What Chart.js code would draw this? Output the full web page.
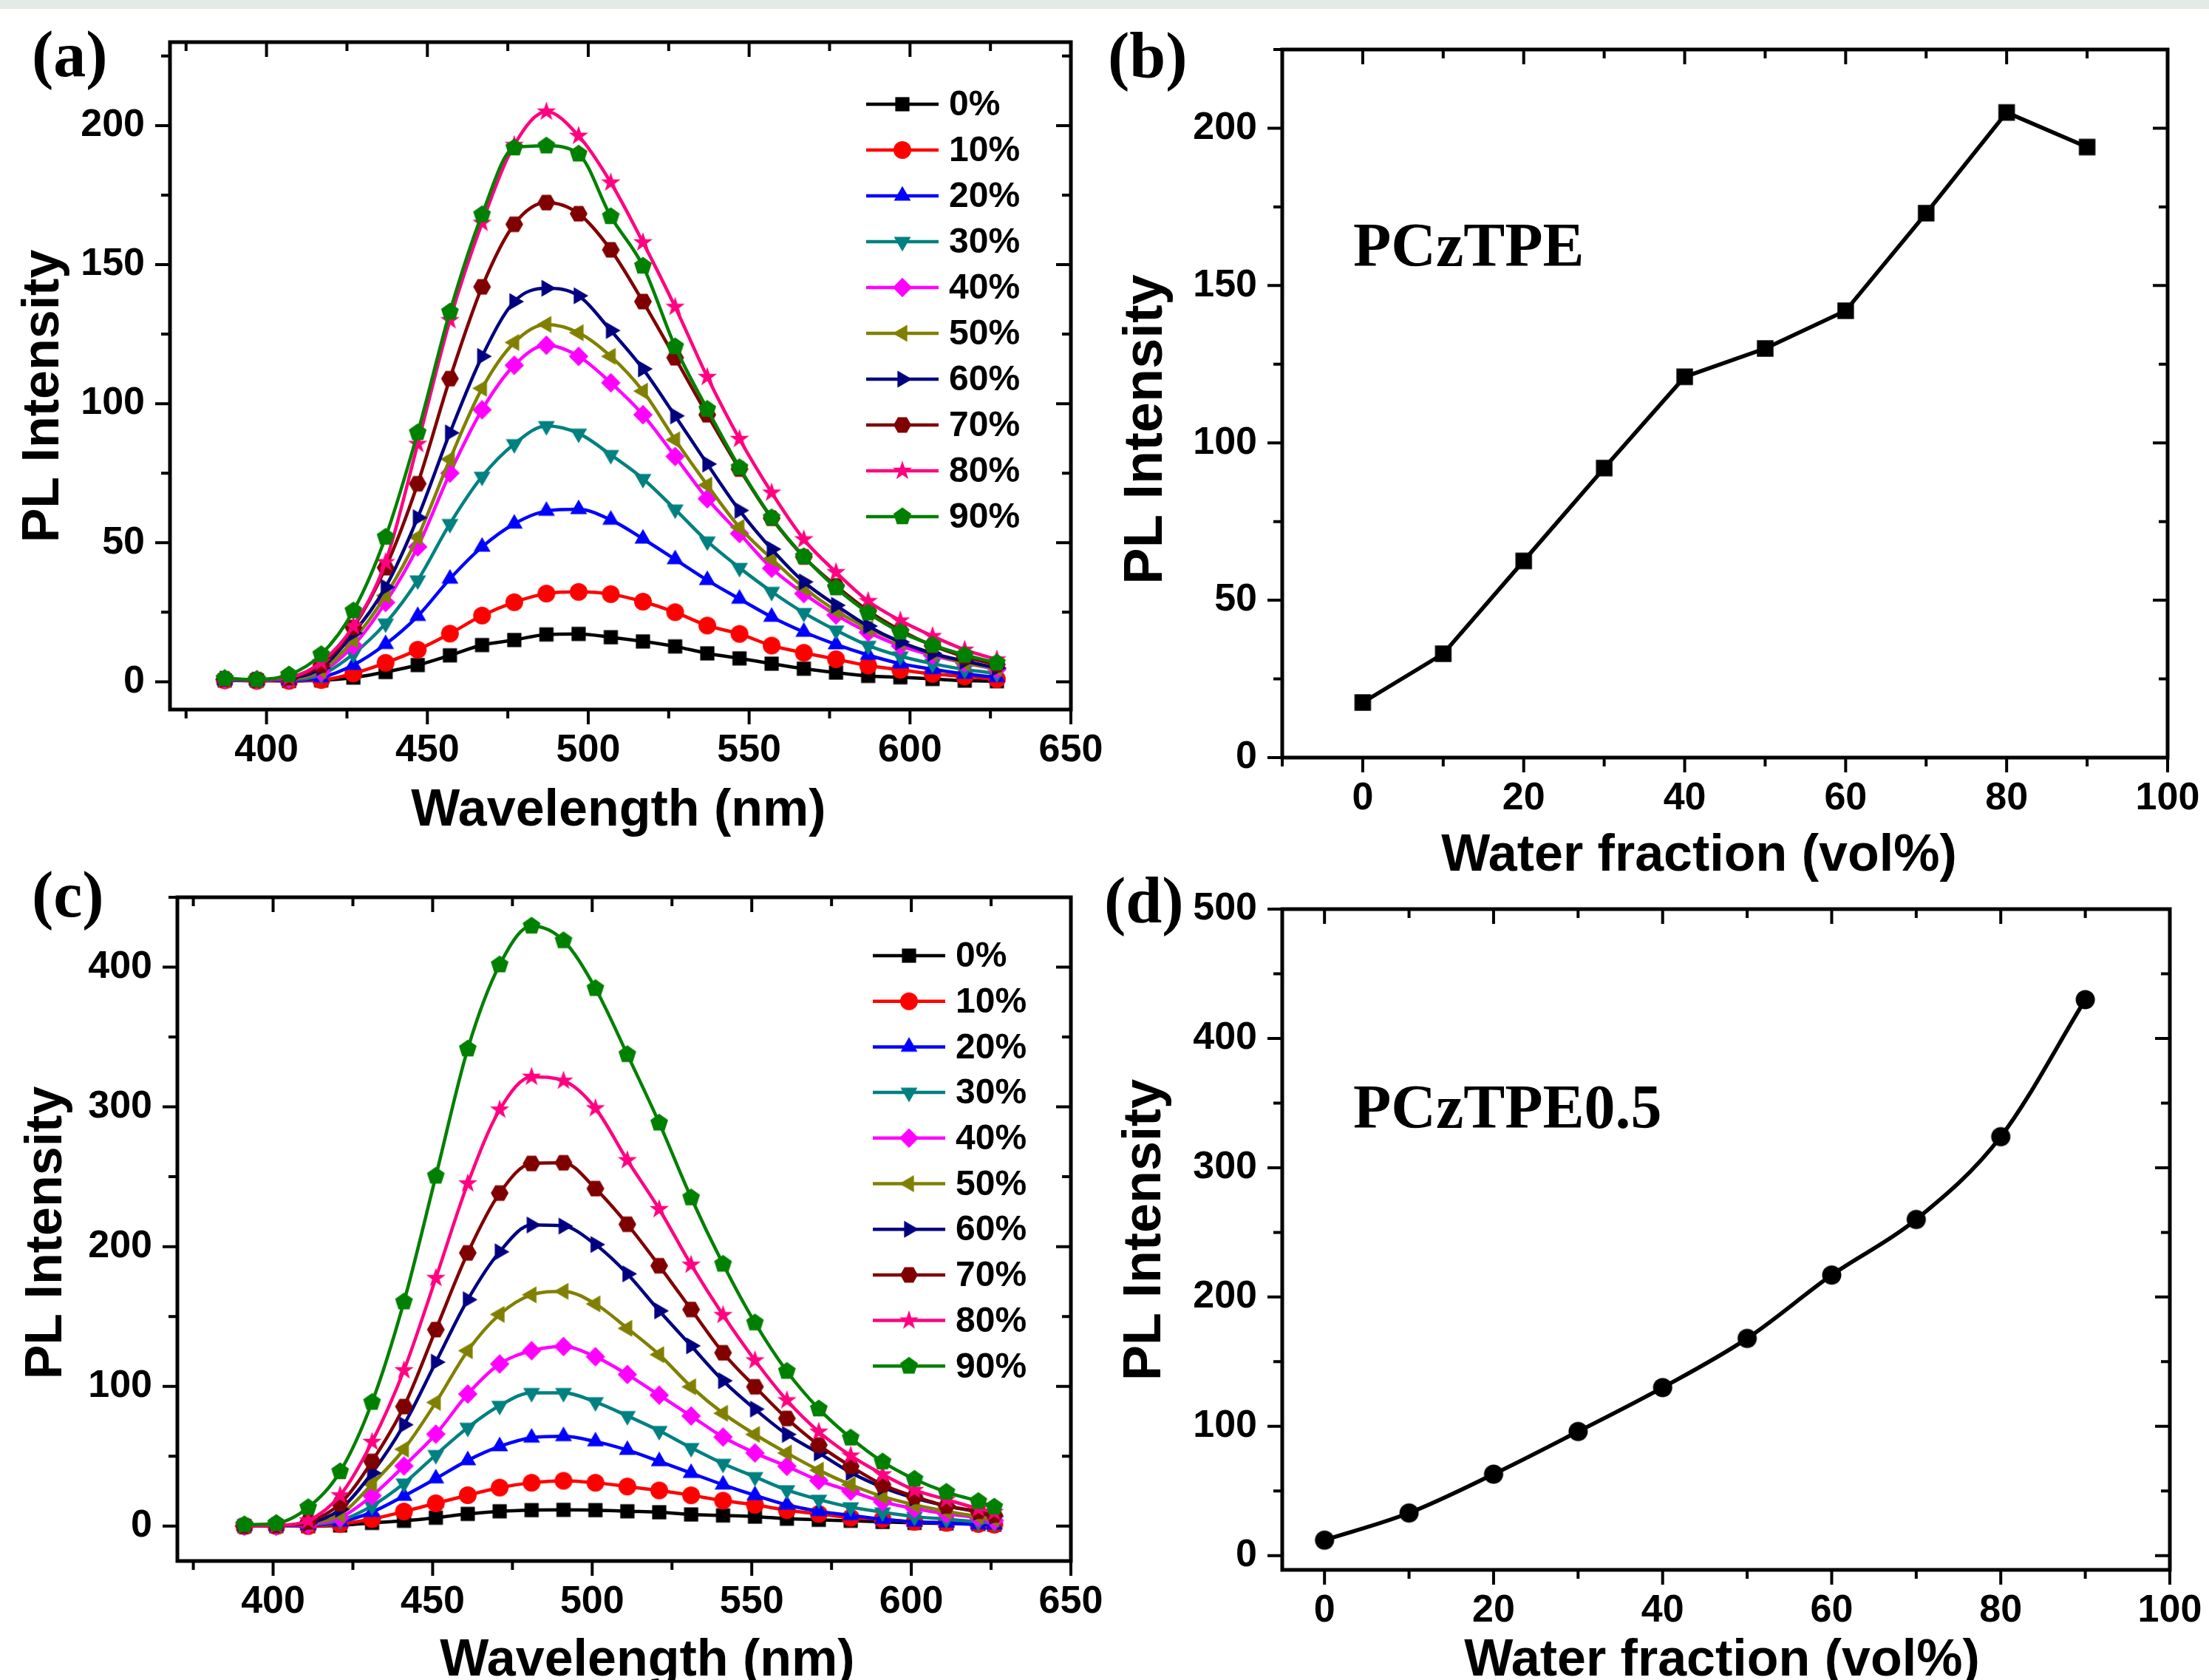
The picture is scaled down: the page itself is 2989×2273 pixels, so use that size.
<!DOCTYPE html>
<html>
<head>
<meta charset="utf-8">
<title>PL intensity of PCzTPE and PCzTPE0.5 in THF/water mixtures</title>
<script src="https://cdn.jsdelivr.net/npm/chart.js@4.4.1/dist/chart.umd.min.js"></script>
<style>
  html, body { margin: 0; padding: 0; background: #fff; }
  #page { position: relative; width: 2989px; height: 2273px; overflow: hidden; background: #fff; }
  #strip { position: absolute; left: 0; top: 0; width: 2989px; height: 12px; background: #e4eae5; }
  canvas { position: absolute; left: 0; top: 0; }
</style>
</head>
<body>
<div id="page">
  <div id="strip"></div>
  <canvas id="chartA" width="2989" height="2273"></canvas>
  <canvas id="chartB" width="2989" height="2273"></canvas>
  <canvas id="chartC" width="2989" height="2273"></canvas>
  <canvas id="chartD" width="2989" height="2273"></canvas>
</div>
<script>
// water fractions (vol%) and their series styles
const fractions = ["0%", "10%", "20%", "30%", "40%", "50%", "60%", "70%", "80%", "90%"];
const colors = ["#000000", "#ff0000", "#0000ff", "#008080", "#ff00ff", "#808000", "#000080", "#800000", "#ff0080", "#008000"];
const shapes = ["square", "circle", "triangleUp", "triangleDown", "diamond", "triangleLeft", "triangleRight", "hexagon", "star", "pentagon"];

// (a) PCzTPE emission spectra
const wavelengthA = [387, 397, 407, 417, 427, 437, 447, 457, 467, 477, 487, 497, 507, 517, 527, 537, 547, 557, 567, 577, 587, 597, 607, 617, 627];
const plA0  = [0.5, 0.5, 0.3, 0.5, 1.5, 3.5, 6, 9.5, 13.2, 15, 17, 17.2, 16, 14.5, 12.7, 10.2, 8.4, 6.5, 4.7, 3.3, 2.1, 1.6, 1, 0.4, 0.2];
const plA10 = [0.5, 0.3, 0.3, 0.6, 3, 6.8, 11.5, 17.3, 23.8, 28.6, 31.7, 32.3, 31.5, 28.8, 25, 20.2, 17.2, 13, 10.4, 8.1, 5.8, 4.3, 2.8, 1.9, 0.9];
const plA20 = [0.5, 0.4, 0.5, 1.5, 6, 13.5, 23.6, 37, 48.5, 56.8, 61.4, 62, 58.2, 51.4, 44, 36.5, 29.8, 23.3, 17.9, 13.4, 9.6, 6.5, 4.5, 2.8, 1.6];
const plA30 = [0.6, 0.5, 0.7, 2.5, 10, 21, 36.5, 56.8, 73.8, 85.5, 92, 89.3, 81.6, 73, 62, 50.5, 41, 32.4, 24.8, 18.5, 13, 9.2, 6.5, 4.4, 3];
const plA40 = [0.8, 0.6, 1, 3.5, 13, 28.5, 48.5, 75, 97.8, 113.8, 121, 117, 107.5, 96, 81, 65.8, 53.3, 40.8, 31.7, 24, 17.8, 12.9, 9.5, 6.7, 4.5];
const plA50 = [0.8, 0.6, 1, 4, 15, 31, 52, 80, 105.5, 122, 128.5, 125.5, 117, 104.5, 87, 70.7, 55.5, 44.2, 33.8, 25.5, 19.2, 14.3, 10.2, 6.8, 4.8];
const plA60 = [1, 0.6, 1.2, 5, 17.5, 34, 59, 89.5, 117, 136.7, 141.5, 138.8, 126.3, 112.5, 95.6, 78.3, 61.6, 47.7, 35.9, 27.5, 20, 14.3, 10.2, 7.4, 5];
const plA70 = [1, 0.7, 1.5, 6, 19.5, 41, 71.2, 109, 142, 164.5, 172.3, 168.3, 155.3, 136.7, 116.5, 96, 76.5, 58.8, 44.9, 34.5, 25.5, 18.5, 13, 9, 6.2];
const plA80 = [1, 0.7, 1.5, 7, 20, 43, 85.5, 130, 165, 193, 205, 196.3, 179.5, 158, 134.8, 109.6, 87.3, 68, 51.2, 39.4, 29, 22, 16.4, 11.5, 8];
const plA90 = [1.2, 0.8, 2.5, 9.8, 25.5, 52, 89.6, 133, 168, 192, 192.7, 189.8, 167.3, 149.5, 120.5, 98, 77, 59, 45, 33.8, 24.8, 17.9, 13.2, 9.6, 6.8];

// (c) PCzTPE0.5 emission spectra
const wavelengthC = [391, 401, 411, 421, 431, 441, 451, 461, 471, 481, 491, 501, 511, 521, 531, 541, 551, 561, 571, 581, 591, 601, 611, 621, 626];
const plC0  = [0, 0, 0, 0.5, 2.3, 3.8, 6, 8.7, 10.6, 11.4, 11.6, 11.4, 10.6, 9.9, 8.3, 7.6, 6.8, 5.3, 4.5, 3.8, 3, 2.3, 1.9, 1.5, 1];
const plC10 = [0, 0, 0, 1.5, 5, 10.4, 16.3, 22.1, 27.5, 31, 32.4, 31, 28.3, 25.5, 22, 18.2, 15.2, 11.4, 8.7, 6, 4.9, 3, 2.3, 1.5, 1];
const plC20 = [0, 0, 0.5, 3, 10, 21.5, 34, 47, 57, 63.2, 64.2, 60.5, 54.4, 46.3, 37.9, 29.6, 22, 15.2, 10.6, 7.6, 4.9, 3, 2.3, 1.1, 1];
const plC30 = [0, 0, 1, 4, 14.5, 30.6, 51, 70.5, 86.2, 95.4, 95.4, 88.8, 78.9, 68.2, 56, 44.7, 35.2, 25.8, 19, 13.6, 9.9, 6.8, 4.9, 3, 2];
const plC40 = [0, 0, 1, 6, 21.7, 43, 65.8, 94.5, 116, 125.5, 128.5, 121.2, 108.5, 93.7, 78.8, 63.7, 52.3, 42.8, 32.6, 25, 17.4, 12.5, 8.7, 6, 4];
const plC50 = [0, 0, 2, 8, 30, 55, 88.5, 125.5, 151.5, 165.5, 168, 159, 141.5, 122.7, 99.7, 80.7, 65.6, 52.3, 40, 29.6, 21.2, 15.2, 10.6, 6.8, 5];
const plC60 = [0, 0.5, 2, 12, 38, 72.5, 117.3, 162, 196.3, 215.5, 214.7, 201.5, 180.5, 154, 129, 104, 83.7, 65.6, 52.3, 38.3, 27.7, 20, 14.4, 9.9, 7];
const plC70 = [0, 0.5, 3, 16, 46.3, 85.5, 140.6, 195.5, 238.3, 259.5, 260, 241.5, 216, 186.3, 155, 124, 99.7, 77, 58, 42.8, 29.6, 21.2, 14.4, 10.6, 8];
const plC80 = [0, 0.5, 4, 22, 60.2, 111.5, 177.5, 245.2, 298, 321.5, 318.7, 299, 261.8, 226.8, 187, 151, 118.6, 90, 67.5, 50.4, 37, 25.8, 19, 12.5, 10];
const plC90 = [1, 2, 13.3, 39, 88.6, 160.5, 250.5, 341.5, 401.7, 429.5, 419, 384.8, 337.5, 288.5, 235, 187.5, 145.5, 110.8, 83.9, 63.1, 46, 33.6, 24.3, 17.7, 13.7];

// (b), (d) peak intensity against water fraction
const waterFraction = [0, 10, 20, 30, 40, 50, 60, 70, 80, 90];
const peakPCzTPE   = [17.5, 33, 62.5, 92, 121, 130, 142, 173, 205, 194];
const peakPCzTPE05 = [12, 33, 63, 96, 130, 168, 217, 260, 324, 430];

const seriesA = [plA0, plA10, plA20, plA30, plA40, plA50, plA60, plA70, plA80, plA90];
const seriesC = [plC0, plC10, plC20, plC30, plC40, plC50, plC60, plC70, plC80, plC90];

const SANS = "'Liberation Sans', Arial, sans-serif";
const SERIF = "'Liberation Serif', 'Times New Roman', serif";
const PAGE_W = 2989, PAGE_H = 2273;
const X_AXIS_H = 100;

// filled Origin-style symbols, drawn once into small canvases
function makeMarker(shape, color, r) {
  const size = Math.ceil(2.5 * r + 4);
  const c = document.createElement('canvas');
  c.width = c.height = size;
  const g = c.getContext('2d');
  const cx = size / 2, cy = size / 2;
  const poly = (n, rot, rad) => {
    for (let i = 0; i < n; i++) {
      const t = rot + i * 2 * Math.PI / n;
      const px = cx + rad * Math.cos(t), py = cy + rad * Math.sin(t);
      if (i) g.lineTo(px, py); else g.moveTo(px, py);
    }
    g.closePath();
  };
  g.fillStyle = color;
  g.beginPath();
  switch (shape) {
    case 'square': g.rect(cx - 0.8 * r, cy - 0.8 * r, 1.6 * r, 1.6 * r); break;
    case 'circle': g.arc(cx, cy, r, 0, 2 * Math.PI); break;
    case 'triangleUp': poly(3, -Math.PI / 2, 1.1 * r); break;
    case 'triangleDown': poly(3, Math.PI / 2, 1.1 * r); break;
    case 'triangleLeft': poly(3, Math.PI, 1.1 * r); break;
    case 'triangleRight': poly(3, 0, 1.1 * r); break;
    case 'diamond': poly(4, -Math.PI / 2, 1.1 * r); break;
    case 'hexagon': poly(6, 0, r); break;
    case 'pentagon': poly(5, -Math.PI / 2, 1.05 * r); break;
    case 'star':
      for (let i = 0; i < 10; i++) {
        const t = -Math.PI / 2 + i * Math.PI / 5;
        const rad = i % 2 ? 0.45 * r : 1.15 * r;
        const px = cx + rad * Math.cos(t), py = cy + rad * Math.sin(t);
        if (i) g.lineTo(px, py); else g.moveTo(px, py);
      }
      g.closePath();
      break;
  }
  g.fill();
  return c;
}

function spectraDatasets(wl, series) {
  return series.map((vals, i) => ({
    label: fractions[i],
    data: wl.map((x, k) => ({ x: x, y: vals[k] })),
    borderColor: colors[i],
    backgroundColor: colors[i],
    borderWidth: 4.5,
    pointStyle: makeMarker(shapes[i], colors[i], 12),
    pointRadius: 12,
    cubicInterpolationMode: 'monotone',
    order: series.length - i
  }));
}

function peakDataset(values, shape, r, smooth) {
  return [{
    label: 'PL',
    data: waterFraction.map((x, k) => ({ x: x, y: values[k] })),
    borderColor: '#000',
    backgroundColor: '#000',
    borderWidth: 5.5,
    pointStyle: makeMarker(shape, '#000', r),
    pointRadius: r,
    cubicInterpolationMode: smooth ? 'monotone' : 'default',
    tension: 0
  }];
}

// box frame with Origin-like ticks: out on bottom/left, in on top/right
const framePlugin = {
  id: 'frame',
  afterDraw(chart, args, opts) {
    const { ctx, chartArea: a } = chart;
    const xs = chart.scales.x, ys = chart.scales.y;
    const MAJOR = 20, MINOR = 12;
    const isMajor = (scale, v) => scale.ticks.some(t => Math.abs(t.value - v) < 1e-6);
    ctx.save();
    ctx.strokeStyle = '#000';
    ctx.lineWidth = 4;
    ctx.beginPath();
    for (let v = Math.ceil(xs.min / opts.xMinor) * opts.xMinor; v <= xs.max + 1e-6; v += opts.xMinor) {
      const px = xs.getPixelForValue(v);
      const len = isMajor(xs, v) ? MAJOR : MINOR;
      ctx.moveTo(px, a.bottom); ctx.lineTo(px, a.bottom + len);
      ctx.moveTo(px, a.top); ctx.lineTo(px, a.top + len);
    }
    for (let v = Math.ceil(ys.min / opts.yMinor) * opts.yMinor; v <= ys.max + 1e-6; v += opts.yMinor) {
      const py = ys.getPixelForValue(v);
      const len = isMajor(ys, v) ? MAJOR : MINOR;
      ctx.moveTo(a.left, py); ctx.lineTo(a.left - len, py);
      ctx.moveTo(a.right, py); ctx.lineTo(a.right - len, py);
    }
    ctx.stroke();
    ctx.lineWidth = 5;
    ctx.strokeRect(a.left, a.top, a.right - a.left, a.bottom - a.top);
    ctx.restore();
  }
};

// panel tag, axis titles, sample name and in-plot legend
const decorPlugin = {
  id: 'decor',
  afterDraw(chart, args, o) {
    const ctx = chart.ctx;
    ctx.save();
    ctx.fillStyle = '#000';
    ctx.textBaseline = 'alphabetic';

    ctx.font = `bold 88px ${SERIF}`;
    ctx.textAlign = 'left';
    ctx.fillText(o.tag.text, o.tag.x, o.tag.y);

    if (o.note) {
      ctx.font = `bold 84px ${SERIF}`;
      ctx.fillText(o.note.text, o.note.x, o.note.y);
    }

    ctx.font = `bold 70px ${SANS}`;
    ctx.textAlign = 'center';
    ctx.fillText(o.xTitle.text, o.xTitle.x, o.xTitle.y);

    ctx.save();
    ctx.font = `bold ${o.yTitle.size}px ${SANS}`;
    ctx.translate(o.yTitle.x, o.yTitle.y);
    ctx.rotate(-Math.PI / 2);
    ctx.fillText(o.yTitle.text, 0, 0);
    ctx.restore();

    if (o.legend) {
      const L = o.legend;
      ctx.font = `bold 48px ${SANS}`;
      ctx.textAlign = 'left';
      ctx.textBaseline = 'middle';
      chart.data.datasets.forEach((ds, i) => {
        const y = L.y + i * L.gap;
        ctx.strokeStyle = ds.borderColor;
        ctx.lineWidth = 4.5;
        ctx.beginPath();
        ctx.moveTo(L.x, y);
        ctx.lineTo(L.x + 98, y);
        ctx.stroke();
        const m = ds.pointStyle;
        ctx.drawImage(m, L.x + 49 - m.width / 2, y - m.height / 2);
        ctx.fillStyle = '#000';
        ctx.fillText(ds.label, L.x + 112, y + 2);
      });
    }
    ctx.restore();
  }
};

const tickFont = { family: SANS, size: 52, weight: 'bold', lineHeight: 1 };

// fixed axis sizes; the frame position comes from layout padding alone
function xAxis(min, max, step) {
  return {
    type: 'linear', position: 'bottom', min: min, max: max,
    grid: { display: false, drawTicks: false },
    border: { display: false },
    ticks: { stepSize: step, includeBounds: false, autoSkip: false, maxRotation: 0, padding: 30, color: '#000', font: tickFont },
    afterFit: s => { s.height = X_AXIS_H; s.paddingLeft = 0; s.paddingRight = 0; }
  };
}

function yAxis(min, max, step, width) {
  return {
    type: 'linear', position: 'left', min: min, max: max,
    grid: { display: false, drawTicks: false },
    border: { display: false },
    ticks: { stepSize: step, includeBounds: false, autoSkip: false, padding: 34, color: '#000', font: tickFont },
    afterFit: s => { s.width = width; s.paddingTop = 0; s.paddingBottom = 0; }
  };
}

function buildChart(id, p) {
  return new Chart(document.getElementById(id), {
    type: 'line',
    data: { datasets: p.datasets },
    options: {
      responsive: false,
      animation: false,
      devicePixelRatio: 1,
      events: [],
      layout: {
        padding: {
          left: p.padLeft,
          top: p.frame.top,
          right: PAGE_W - p.frame.right,
          bottom: PAGE_H - p.frame.bottom - X_AXIS_H
        }
      },
      plugins: {
        legend: { display: false },
        tooltip: { enabled: false },
        frame: { xMinor: p.xMinor, yMinor: p.yMinor },
        decor: p.decor
      },
      scales: {
        x: xAxis(p.x[0], p.x[1], p.x[2]),
        y: yAxis(p.y[0], p.y[1], p.y[2], p.frame.left - p.padLeft)
      }
    },
    plugins: [framePlugin, decorPlugin]
  });
}

buildChart('chartA', {
  datasets: spectraDatasets(wavelengthA, seriesA),
  frame: { left: 230, right: 1449, top: 57, bottom: 960 },
  padLeft: 15,
  x: [370, 650, 50], y: [-10, 230, 50], xMinor: 25, yMinor: 25,
  decor: {
    tag: { text: '(a)', x: 43, y: 103 },
    xTitle: { text: 'Wavelength (nm)', x: 837, y: 1117 },
    yTitle: { text: 'PL Intensity', x: 79, y: 536, size: 70 },
    legend: { x: 1172, y: 141, gap: 62 }
  }
});

buildChart('chartB', {
  datasets: peakDataset(peakPCzTPE, 'square', 14, false),
  frame: { left: 1735, right: 2933, top: 67, bottom: 1025 },
  padLeft: 1510,
  x: [-10, 100, 20], y: [0, 225, 50], xMinor: 10, yMinor: 25,
  decor: {
    tag: { text: '(b)', x: 1499, y: 105 },
    note: { text: 'PCzTPE', x: 1831, y: 360 },
    xTitle: { text: 'Water fraction (vol%)', x: 2299, y: 1178 },
    yTitle: { text: 'PL Intensity', x: 1572, y: 581, size: 74 }
  }
});

buildChart('chartC', {
  datasets: spectraDatasets(wavelengthC, seriesC),
  frame: { left: 240, right: 1449, top: 1214, bottom: 2112 },
  padLeft: 15,
  x: [370, 650, 50], y: [-25, 450, 100], xMinor: 25, yMinor: 50,
  decor: {
    tag: { text: '(c)', x: 43, y: 1240 },
    xTitle: { text: 'Wavelength (nm)', x: 876, y: 2267 },
    yTitle: { text: 'PL Intensity', x: 83, y: 1668, size: 70 },
    legend: { x: 1181, y: 1293, gap: 61.7 }
  }
});

buildChart('chartD', {
  datasets: peakDataset(peakPCzTPE05, 'circle', 13, true),
  frame: { left: 1735, right: 2936, top: 1230, bottom: 2124 },
  padLeft: 1510,
  x: [-5, 100, 20], y: [-11, 500, 100], xMinor: 10, yMinor: 50,
  decor: {
    tag: { text: '(d)', x: 1494, y: 1248 },
    note: { text: 'PCzTPE0.5', x: 1831, y: 1526 },
    xTitle: { text: 'Water fraction (vol%)', x: 2330, y: 2267 },
    yTitle: { text: 'PL Intensity', x: 1570, y: 1664, size: 72 }
  }
});
</script>
</body>
</html>
